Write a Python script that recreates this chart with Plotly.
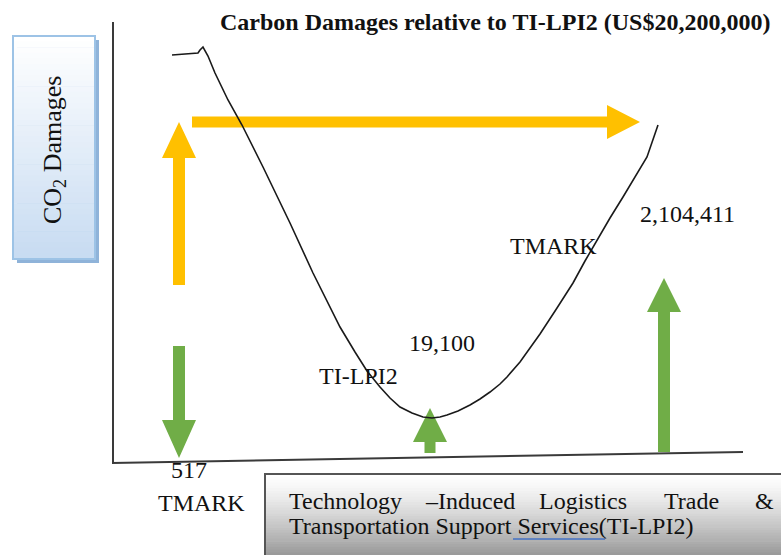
import plotly.graph_objects as go

# ---------------- data ----------------
title_text = "<b>Carbon Damages relative to TI-LPI2 (US$20,200,000)</b>"
y_label = "CO<sub>2</sub> Damages"

# conceptual damage curve (diagram coordinates, y grows downward)
curve_x = [172, 185, 198, 200, 203, 208, 215, 228, 242, 263, 290, 313, 340, 355, 367, 380,
           390, 400, 412, 423, 432, 440, 447, 458, 470, 480, 490, 500, 507, 520, 540,
           557, 573, 585, 597, 610, 623, 635, 647, 658]
curve_y = [55, 54, 53, 50, 47, 56, 73, 100, 125, 167, 223, 273, 327, 352, 371, 387,
           398, 407, 413, 417, 418, 417, 415, 411, 405, 399, 392, 384, 377, 362, 334,
           308, 283, 261, 240, 218, 197, 177, 157, 125]

value_labels = ["517", "19,100", "2,104,411"]
name_labels = ["TMARK", "TI-LPI2", "TMARK"]
caption_line1 = ["Technology", "–Induced", "Logistics", "Trade", "&"]
caption_line2 = "Transportation Support Services(TI-LPI2)"

YELLOW = "#FFC000"
GREEN = "#70AD47"
FONT = "Liberation Serif"


def arrow(tail, tip, shaft_w, head_w, head_len):
    (x0, y0), (x1, y1) = tail, tip
    dx, dy = x1 - x0, y1 - y0
    L = (dx * dx + dy * dy) ** 0.5
    ux, uy = dx / L, dy / L
    px, py = -uy, ux
    bx, by = x1 - ux * head_len, y1 - uy * head_len
    s, h = shaft_w / 2, head_w / 2
    pts = [(x0 + px * s, y0 + py * s), (bx + px * s, by + py * s),
           (bx + px * h, by + py * h), (x1, y1),
           (bx - px * h, by - py * h), (bx - px * s, by - py * s),
           (x0 - px * s, y0 - py * s), (x0 + px * s, y0 + py * s)]
    return [p[0] for p in pts], [p[1] for p in pts]


fig = go.Figure()

shapes = []
# y-axis label box: shadow, gradient, border
shapes.append(dict(type="rect", x0=17, x1=99, y0=40, y1=263, fillcolor="#8fb3d9",
                   line=dict(width=0), layer="below"))
n = 40
top, bot = 36, 259
for i in range(n):
    t = i / (n - 1)
    r = int(255 + (200 - 255) * t)
    g = int(255 + (220 - 255) * t)
    b = int(255 + (242 - 255) * t)
    y0 = top + (bot - top) * i / n
    y1 = top + (bot - top) * (i + 1) / n + 0.6
    shapes.append(dict(type="rect", x0=13, x1=95, y0=y0, y1=y1,
                       fillcolor=f"rgb({r},{g},{b})", line=dict(width=0), layer="below"))
shapes.append(dict(type="rect", x0=13, x1=95, y0=top, y1=bot,
                   line=dict(color="#9dc3e6", width=2), layer="below"))

# caption box gradient
n2 = 30
ctop, cbot = 474, 558
for i in range(n2):
    t = i / (n2 - 1)
    c = int(255 + (150 - 255) * t ** 1.3)
    y0 = ctop + (cbot - ctop) * i / n2
    y1 = ctop + (cbot - ctop) * (i + 1) / n2 + 0.6
    shapes.append(dict(type="rect", x0=265, x1=790, y0=y0, y1=y1,
                       fillcolor=f"rgb({c},{c},{c})", line=dict(width=0), layer="below"))
shapes.append(dict(type="rect", x0=265, x1=790, y0=ctop, y1=cbot,
                   line=dict(color="#555555", width=2), layer="below"))

# axes
shapes.append(dict(type="line", x0=113, x1=113, y0=22, y1=463,
                   line=dict(color="#3a3a3a", width=2)))
shapes.append(dict(type="line", x0=112, x1=743, y0=463, y1=452,
                   line=dict(color="#3a3a3a", width=2)))
# spell-check underline
shapes.append(dict(type="line", x0=513, x1=605, y0=539, y1=539,
                   line=dict(color="#4472c4", width=1.5)))

# arrows
arrows = [
    ((179, 285), (179, 122), 12, 34, 36, YELLOW),
    ((192, 122), (640, 122), 11, 34, 33, YELLOW),
    ((179, 346), (179, 458), 12, 34, 38, GREEN),
    ((430, 453), (430, 408), 11, 34, 34, GREEN),
    ((664, 452), (664, 278), 12, 34, 34, GREEN),
]
for tail, tip, sw, hw, hl, col in arrows:
    ax, ay = arrow(tail, tip, sw, hw, hl)
    fig.add_trace(go.Scatter(x=ax, y=ay, mode="lines", fill="toself",
                             fillcolor=col, line=dict(width=0, color=col),
                             hoverinfo="skip", showlegend=False))

# curve
fig.add_trace(go.Scatter(x=curve_x, y=curve_y, mode="lines",
                         line=dict(color="#1a1a1a", width=1.6),
                         hoverinfo="skip", showlegend=False))

annotations = []


def txt(s, x, y, size=24, xanchor="center", color="#111111", angle=0):
    annotations.append(dict(text=s, x=x, y=y, xref="x", yref="y", showarrow=False,
                            xanchor=xanchor, yanchor="middle", textangle=angle,
                            font=dict(family=FONT, size=size, color=color)))


annotations.append(dict(text=title_text, x=218, y=22, xref="x", yref="y", showarrow=False,
                        xanchor="left", yanchor="middle",
                        font=dict(family=FONT, size=24, color="#111111")))
txt(y_label, 54, 150, size=26, angle=-90)
txt(value_labels[0], 189, 470)
txt(name_labels[0], 201, 503)
txt(name_labels[1], 358, 376)
txt(value_labels[1], 442, 343)
txt(name_labels[2], 553, 246)
txt(value_labels[2], 687, 214)

line1_x = [287, 423, 537, 662, 753]
for w, x in zip(caption_line1, line1_x):
    txt(w, x, 501, xanchor="left")
txt(caption_line2, 287, 526, xanchor="left")

fig.update_layout(
    width=781, height=555,
    margin=dict(l=0, r=0, t=0, b=0),
    paper_bgcolor="white", plot_bgcolor="white",
    xaxis=dict(range=[0, 781], visible=False, fixedrange=True),
    yaxis=dict(range=[555, 0], visible=False, fixedrange=True),
    shapes=shapes, annotations=annotations,
    showlegend=False,
)

fig.write_html("out.html", config={"displayModeBar": False},
               post_script="document.body.style.margin='0';document.body.style.overflow='hidden';")
